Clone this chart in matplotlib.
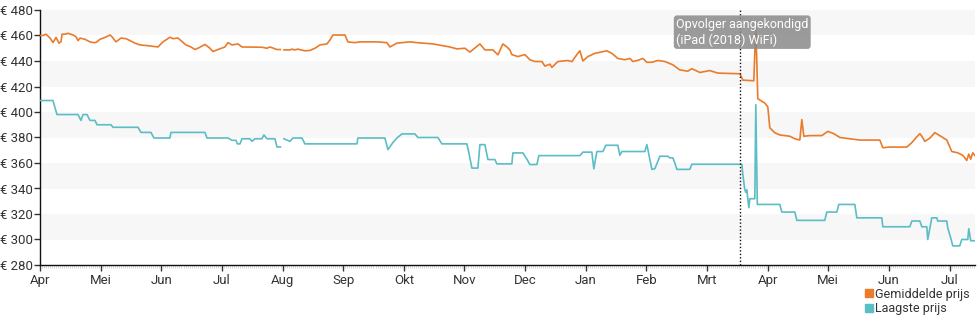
import numpy as np
import matplotlib
matplotlib.use("Agg")
import matplotlib.pyplot as plt
import matplotlib.transforms as mtransforms
from matplotlib.lines import Line2D

plt.rcParams['font.family'] = ['Roboto', 'DejaVu Sans']

# x positions are months since 1 April 2017 (one tick per month)
months = ['Apr', 'Mei', 'Jun', 'Jul', 'Aug', 'Sep', 'Okt', 'Nov', 'Dec',
          'Jan', 'Feb', 'Mrt', 'Apr', 'Mei', 'Jun', 'Jul']

avg_t = [0, 0.049, 0.099, 0.165, 0.214, 0.264, 0.313, 0.346, 0.363, 0.412,
         0.462, 0.544, 0.594, 0.627, 0.660, 0.742, 0.824, 0.874, 0.923, 0.989,
         1.072, 1.154, 1.187, 1.253, 1.336, 1.418, 1.484, 1.566, 1.649, 1.781,
         1.946, 2.028, 2.143, 2.193, 2.275, 2.325, 2.407, 2.490, 2.556, 2.605,
         2.721, 2.803, 2.852, 2.935, 3.050, 3.100, 3.166, 3.265, 3.331, 3.660,
         3.743, 3.792, 3.908, 3.965, 3.99,
         4.023, 4.122, 4.155, 4.204, 4.254, 4.369, 4.452, 4.534, 4.617, 4.732,
         4.782, 4.831, 5.029, 5.078, 5.194, 5.276, 5.557, 5.721, 5.771, 5.886,
         6.101, 6.216, 6.480, 6.760, 6.876, 7.007, 7.090, 7.255, 7.337, 7.469,
         7.552, 7.634, 7.700, 7.749, 7.782, 7.881, 7.997, 8.079, 8.162, 8.277,
         8.327, 8.409, 8.442, 8.541, 8.706, 8.772, 8.854, 8.904, 8.953, 9.036,
         9.151, 9.349, 9.431, 9.530, 9.646, 9.728, 9.778, 9.860, 9.942, 10.008,
         10.091, 10.190, 10.305, 10.437, 10.552, 10.684, 10.750, 10.882, 11.047, 11.179,
         11.542, 11.591, 11.772, 11.805, 11.838, 11.954, 12.003, 12.036, 12.119, 12.201,
         12.366, 12.449, 12.531, 12.564, 12.597, 12.696, 12.894, 12.993, 13.092, 13.191,
         13.355, 13.520, 13.850, 13.900, 14.015, 14.295, 14.378, 14.460, 14.510, 14.543,
         14.592, 14.675, 14.757, 14.873, 14.955, 15.037, 15.136, 15.218, 15.284, 15.317,
         15.350, 15.383, 15.433]
avg_price = [460, 460, 461, 458, 454.5, 458.5, 454, 455, 461, 461,
             461.7, 460.4, 459, 456, 458, 457, 455, 454.5, 454.5, 457,
             458.5, 460.4, 459, 455, 458, 457.5, 456, 454, 452.6, 452,
             451, 455, 458.6, 457.5, 458, 456, 452.6, 451, 449, 450,
             453, 450, 447.4, 449, 451, 454.4, 452.6, 453.4, 451, 450.8,
             450, 451, 449, 449, np.nan,
             448.7, 448.7, 449.3, 448.7, 449.3, 448, 448.3, 450, 452.6, 453.4,
             456.5, 460.4, 460.4, 455, 454.4, 455, 455, 454.4, 451, 454,
             455, 454.4, 453.4, 451, 449.5, 450, 447, 453.4, 448.7, 448.7,
             444.8, 453.4, 451, 448.7, 445, 443.5, 445, 441, 439.6, 439.6,
             436, 437.5, 435, 439.6, 440.4, 439.5, 445, 448, 440, 443.5,
             446, 448, 446, 442, 441, 442, 439.6, 440.5, 442, 439,
             439, 440.4, 439.6, 437, 433, 432, 434, 431, 432.5, 430.5,
             430, 425, 424.5, 468, 410.4, 407, 404, 387.6, 383.7, 382,
             381, 379, 378, 394, 381, 381.5, 381.5, 384.8, 383, 380,
             379, 378, 378, 372, 372.5, 372.5, 376, 380.5, 383, 381,
             377, 379.5, 383.8, 380.5, 378, 369, 368, 366, 362, 367,
             363, 368, 365]

low_t = [0, 0.214, 0.280, 0.627, 0.676, 0.709, 0.775, 0.824, 0.907, 0.940,
         1.171, 1.204, 1.616, 1.665, 1.830, 1.880, 2.143, 2.160, 2.721, 2.754,
         3.100, 3.166, 3.232, 3.256, 3.298, 3.331, 3.463, 3.496, 3.545, 3.660,
         3.693, 3.743, 3.875, 3.908, 3.965, 3.99,
         4.023, 4.122, 4.172, 4.320, 4.369, 5.227, 5.243, 5.688, 5.738, 5.820,
         5.886, 5.969, 6.183, 6.233, 6.562, 6.628, 7.040, 7.073, 7.123, 7.222,
         7.255, 7.337, 7.387, 7.502, 7.535, 7.782, 7.799, 7.964, 8.030, 8.079,
         8.195, 8.228, 8.904, 8.953, 9.101, 9.134, 9.184, 9.283, 9.332, 9.530,
         9.563, 9.596, 9.975, 10.008, 10.058, 10.091, 10.140, 10.223, 10.355, 10.388,
         10.437, 10.470, 10.503, 10.717, 10.750, 11.575, 11.591, 11.624, 11.641, 11.657,
         11.690, 11.707, 11.789, 11.805, 11.830, 12.201, 12.234, 12.449, 12.482, 12.943,
         12.976, 13.141, 13.174, 13.438, 13.471, 13.883, 13.900, 14.345, 14.378, 14.510,
         14.543, 14.625, 14.641, 14.707, 14.790, 14.806, 14.955, 14.971, 15.021, 15.054,
         15.169, 15.202, 15.301, 15.317, 15.350, 15.433]
low_price = [409, 409, 398, 398, 393.4, 398, 398, 393.4, 393.4, 390,
             390, 388, 388, 384, 384, 379.6, 379.6, 384, 384, 379.6,
             379.6, 377.8, 377.8, 375, 375, 379, 379, 377, 379, 379,
             382, 379, 379, 372.6, 372.6, np.nan,
             379, 377, 379.6, 379.6, 375, 375, 379.6, 379.6, 370.5, 376,
             379.6, 382.8, 382.8, 380, 380, 375, 375, 368, 356, 356,
             374.4, 374.4, 362.7, 362.7, 359.3, 359.3, 367.9, 367.9, 363, 358.8,
             358.8, 365.8, 365.8, 368.5, 368.5, 355.5, 369, 369, 373.9, 373.9,
             366, 369, 369, 374.5, 362.5, 355, 355.5, 365.3, 365.3, 364,
             364, 360, 355, 355, 359, 359, 351, 339, 337, 339,
             325, 332, 332, 405.7, 327.5, 327.5, 321.5, 321.5, 315, 315,
             321.5, 321.5, 327.5, 327.5, 317, 317, 310, 310, 314.5, 314.5,
             310, 310, 300, 317, 317, 314.5, 314.5, 309, 301, 295,
             295, 300, 300, 308.5, 299, 299]

event_t = 11.55
event_label = 'Opvolger aangekondigd\n(iPad (2018) WiFi)'

orange = '#e97b2b'
teal = '#5bbdc5'

fig = plt.figure(figsize=(9.8, 3.25), dpi=100)
ax = fig.add_axes([40 / 980, 1 - 265 / 325, 935 / 980, 255 / 325])

# alternating horizontal bands
for lo in range(300, 480, 40):
    ax.axhspan(lo, lo + 20, color='#f7f7f7', zorder=0, lw=0)

ax.plot(avg_t, avg_price, color=orange, lw=1.2, zorder=3)
ax.plot(low_t, low_price, color=teal, lw=1.2, zorder=3)

ax.axvline(event_t, color='#111111', lw=1, ls=(0, (1, 1.5)), zorder=4)
trans = mtransforms.blended_transform_factory(ax.transData, ax.transAxes)
ax.text(10.49, 0.97, event_label, transform=trans, ha='left', va='top',
        color='white', fontsize=9, linespacing=1.25, zorder=5,
        bbox=dict(boxstyle='round,pad=0.18,rounding_size=0.25',
                  fc='#8a8a8a', ec='none', alpha=0.85))

ax.set_xlim(0, 15.42)
ax.set_ylim(280, 480)
ax.set_yticks(range(280, 481, 20))
ax.set_yticklabels(['€ %d' % v for v in range(280, 481, 20)])
ax.set_xticks(range(len(months)))
ax.set_xticklabels(months)
ax.set_xticks(np.arange(0, 15.42, 1 / 30), minor=True)

for side in ['top', 'right']:
    ax.spines[side].set_visible(False)
for side in ['left', 'bottom']:
    ax.spines[side].set_color('#111111')
    ax.spines[side].set_linewidth(1)

ax.tick_params(axis='both', which='major', labelsize=9.5, colors='#333333',
               length=4, width=1)
ax.tick_params(axis='y', which='major', pad=1)
ax.tick_params(axis='x', which='major', pad=2.5)
ax.tick_params(axis='x', which='minor', length=2, width=0.5, color='#c8c8c8')
ax.tick_params(axis='y', which='minor', left=False)

handles = [Line2D([], [], ls='none', marker='s', ms=5.5, color=orange),
           Line2D([], [], ls='none', marker='s', ms=5.5, color=teal)]
fig.legend(handles, ['Gemiddelde prijs', 'Laagste prijs'], loc='lower right',
           bbox_to_anchor=(1.0, 0.0), frameon=False, fontsize=9,
           handletextpad=0.1, handlelength=0.8, labelspacing=0.1,
           borderpad=0.3, labelcolor='#333333')

fig.savefig('out.png', dpi=100)
